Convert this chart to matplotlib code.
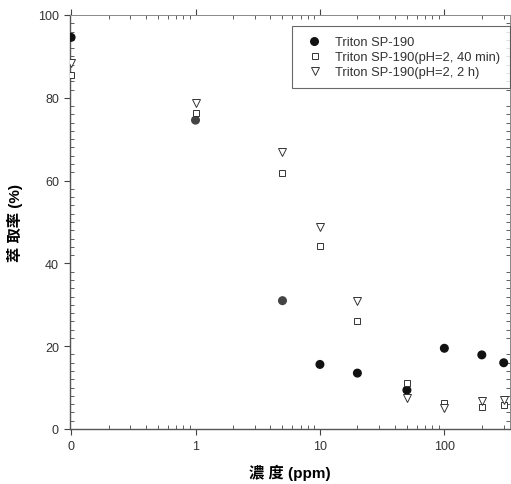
import matplotlib
matplotlib.use("Agg")
import matplotlib.pyplot as plt
from matplotlib.ticker import FixedLocator, LogLocator, MultipleLocator, NullFormatter

# concentration (ppm); 0 is drawn one decade below 1
conc = [0, 1, 5, 10, 20, 50, 100, 200, 300]
zero_pos = 0.1
s_plain = [94.6, 74.6, 31.0, 15.6, 13.5, 9.4, 19.5, 17.9, 16.0]
s_40min = [85.6, 76.4, 61.8, 44.3, 26.0, 11.1, 6.3, 5.4, 5.9]
s_2h = [88.5, 78.8, 66.9, 48.8, 30.8, 7.5, 5.0, 6.8, 6.9]
labels = ["Triton SP-190", "Triton SP-190(pH=2, 40 min)", "Triton SP-190(pH=2, 2 h)"]
xtick_vals = [0.1, 1, 10, 100]
xtick_labels = ["0", "1", "10", "100"]

xpos = [zero_pos if c == 0 else c for c in conc]

fam = ["Liberation Sans", "Noto Sans CJK TC", "DejaVu Sans"]
plt.rcParams['font.family'] = fam

fig = plt.figure(figsize=(5.11, 4.85), dpi=100)
ax = fig.add_axes([70/511, 55/485, 440/511, 414/485])

plain_cols = ['#111111', '#444444', '#444444', '#111111', '#111111', '#111111',
              '#111111', '#111111', '#111111']
ax.scatter(xpos, s_plain, s=30, c=plain_cols, edgecolors=plain_cols, marker='o',
           label=labels[0], zorder=3)
ax.plot(xpos, s_40min, 's', ms=4.6, mfc='white', mec='#333333', mew=0.7, ls='none',
        label=labels[1], zorder=3)
ax.plot(xpos, s_2h, 'v', ms=5.2, mfc='white', mec='#333333', mew=0.7, ls='none',
        label=labels[2], zorder=3)

ax.set_xscale('log')
ax.set_xlim(0.1 * 0.98, 337)
ax.set_ylim(0, 100)
ax.xaxis.set_major_locator(FixedLocator(xtick_vals))
ax.set_xticklabels(xtick_labels)
ax.xaxis.set_minor_locator(LogLocator(base=10, subs=range(2, 10)))
ax.xaxis.set_minor_formatter(NullFormatter())
ax.yaxis.set_major_locator(MultipleLocator(20))
ax.yaxis.set_minor_locator(MultipleLocator(2))

for s in ax.spines.values():
    s.set_color('#555555')
    s.set_linewidth(1.0)
ax.spines['top'].set_color('#888888')
ax.spines['right'].set_color('#888888')
ax.spines['top'].set_linewidth(0.7)
ax.spines['right'].set_linewidth(0.7)

ax.tick_params(which='major', direction='out', length=4, width=0.8, color='#444444',
               labelsize=9, labelcolor='#333333', top=True, right=True, pad=4)
ax.tick_params(which='minor', direction='in', length=3, width=0.6, color='#444444',
               top=True, right=True)

ax.set_xlabel("濃 度 (ppm)", fontsize=11, fontweight='bold', labelpad=8)
ax.set_ylabel("萃 取率 (%)", fontsize=11, fontweight='bold', labelpad=11)

leg = ax.legend(loc='upper right', bbox_to_anchor=(1.0, 0.973), fontsize=9.3,
                frameon=True, fancybox=False, handletextpad=0.6, borderpad=0.75,
                labelspacing=0.25, handlelength=2.0, borderaxespad=0.0)
leg.get_frame().set_edgecolor('#444444')
leg.get_frame().set_linewidth(0.8)
for t in leg.get_texts():
    t.set_color('#333333')

fig.savefig("out.png", dpi=100)
